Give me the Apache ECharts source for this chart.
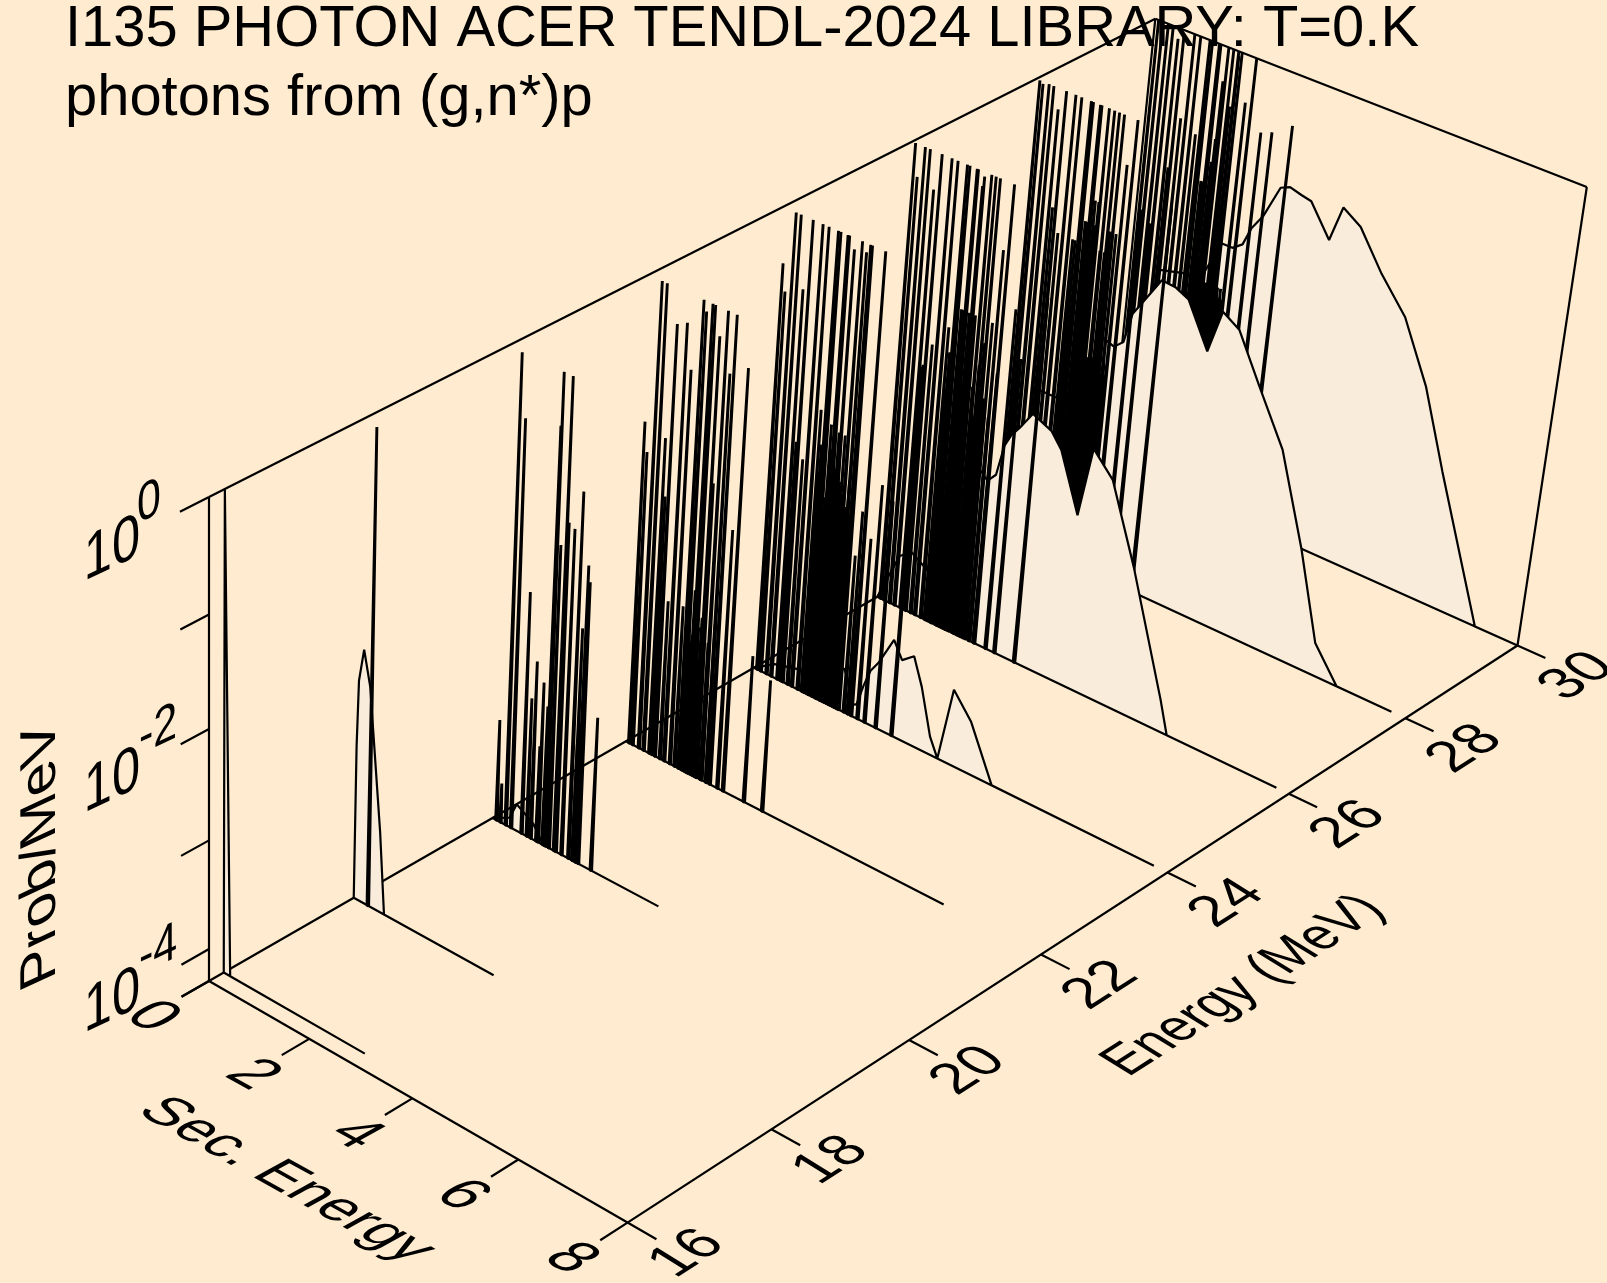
<!DOCTYPE html>
<html><head><meta charset="utf-8">
<style>html,body{margin:0;padding:0;background:#FFECD0}#c{width:1607px;height:1283px}</style>
<script src="https://cdn.jsdelivr.net/npm/echarts@6/dist/echarts.min.js"></script>
</head><body><div id="c"></div>
<script>
// ---------- data: secondary energy (MeV) and log10(Prob/MeV) ----------
const secTicks = [0, 2, 4, 6, 8];
const energyTicks = [16, 18, 20, 22, 24, 26, 28, 30];
const probTicks = [0, -1, -2, -3, -4, -4.3];
const probLabels = ['0', '-2', '-4'];

const e162ContSec = [0, 0.005, 0.13, 2.8];
const e162ContLog = [-4.3, 0, -4.3, -4.3];

const e18ContSec = [0, 0.005, 0.03, 0.12, 0.25, 0.5, 0.61, 2.78];
const e18ContLog = [-4.3, -2.88, -2.28, -1.98, -2.28, -3.55, -4.3, -4.3];
const e18LineSec = [0.285];
const e18LineLog = [0];

const e20ContSec = [0, 0.34, 0.47, 0.81, 1.02, 3.29];
const e20ContLog = [-4.3, -4.21, -4.05, -4.15, -4.3, -4.3];
const e20LineSec = [0.079, 0.16, 0.266, 0.373, 0.584, 0.69, 0.768, 0.88, 0.914, 1.005, 1.042, 1.064, 1.131, 1.235, 1.27, 1.384, 1.52, 1.6, 1.607, 1.655, 1.672, 1.713, 1.967];
const e20LineLog = [-3.35, -3.93, 0, -0.55, -2.05, -3.0, -2.64, -3.4, -2.8, -3.0, -0.47, 0, -1.5, 0, -1.27, -1.3, -0.94, -3.2, -2.14, -3.0, -1.56, -1.7, -2.87];

const e22ContSec = [0, 6.2];
const e22ContLog = [-4.3, -4.3];
const e22LineSec = [0.068, 0.135, 0.263, 0.359, 0.474, 0.525, 0.586, 0.688, 0.773, 0.888, 0.982, 1.059, 1.118, 1.196, 1.235, 1.228, 1.278, 1.356, 1.399, 1.387, 1.423, 1.497, 1.52, 1.612, 1.613, 1.685, 1.836, 1.948, 2.36, 2.72, 1.15, 1.18, 1.21, 1.25, 1.27, 1.3, 1.33, 1.36, 1.41];
const e22LineLog = [-1.29, -1.55, 0, 0, -1.35, -1.87, -0.31, -2.8, -0.26, -0.65, -2.78, 0, -0.09, -2.58, -2.58, 0, 0, -2.8, -3.0, -0.25, -1.55, -3.0, 0, -2.8, -0.53, 0, -1.88, -0.41, -2.92, -3.06, -3.1, -3.0, -3.2, -3.0, -3.1, -2.9, -3.2, -3.0, -3.1];

const e24ContSec = [0, 0.4, 1.0, 1.4, 1.75, 1.84, 1.94, 2.04, 2.15, 2.26, 2.4, 2.66, 2.84, 3.06, 3.25, 3.48, 3.65, 3.85, 4.22, 4.7, 7.75];
const e24ContLog = [-4.3, -4.17, -4.09, -4.04, -3.89, -3.97, -4.19, -4.17, -3.96, -3.79, -3.68, -3.4, -3.55, -3.46, -3.71, -4.13, -4.3, -3.59, -3.81, -4.3, -4.3];
const e24LineSec = [0.067, 0.137, 0.254, 0.35, 0.474, 0.535, 0.58, 0.682, 0.768, 0.883, 0.969, 1.021, 1.061, 1.108, 1.183, 1.225, 1.243, 1.273, 1.339, 1.377, 1.379, 1.456, 1.515, 1.517, 1.599, 1.605, 1.673, 1.672, 1.705, 1.808, 1.887, 1.954, 2.08, 2.22, 2.44, 2.75, 1.0, 1.09, 1.16, 1.26, 1.32, 1.41, 1.48, 1.56, 1.63];
const e24LineLog = [-0.49, -0.73, 0, 0, -0.64, -2.02, 0, -2.15, 0, 0, -1.63, -1.94, 0, 0, -1.72, -1.94, 0, 0, -1.76, -1.72, -0.1, -1.76, -2.37, 0, -2.15, -0.08, -1.94, 0, 0, -2.8, -2.37, 0, -2.58, -2.05, -2.15, -0.86, -2.2, -2.1, -2.4, -2.3, -2.1, -2.2, -2.3, -2.4, -2.5];

const e26ContSec = [0, 0.378, 0.606, 0.965, 1.324, 1.756, 1.94, 2.09, 2.2, 2.308, 2.451, 2.675, 3.047, 3.257, 3.669, 3.845, 4.244, 4.79, 5.53, 5.71, 7.77];
const e26ContLog = [-4.3, -3.81, -3.72, -3.83, -3.6, -2.65, -2.73, -2.64, -2.34, -2.22, -2.12, -1.94, -2.02, -2.15, -2.67, -2.01, -2.21, -2.91, -4.0, -4.3, -4.3];
const e26LineSec = [0.067, 0.146, 0.256, 0.352, 0.472, 0.536, 0.58, 0.681, 0.77, 0.884, 0.967, 1.021, 1.064, 1.112, 1.176, 1.215, 1.25, 1.273, 1.33, 1.373, 1.374, 1.398, 1.447, 1.507, 1.527, 1.595, 1.61, 1.663, 1.691, 1.775, 1.85, 1.86, 1.945, 1.957, 2.185, 2.36, 2.75, 0.99, 1.09, 1.2, 1.3, 1.42, 1.55, 1.64, 1.73];
const e26LineLog = [0, -0.29, 0, 0, -0.34, -1.94, 0, -1.72, 0, 0, -1.5, -1.72, 0, 0, -1.29, -1.29, 0, 0, -1.29, -1.5, -0.13, -0.04, -1.29, -1.94, 0, -1.72, 0, -1.5, 0, -1.29, -2.15, -0.61, -1.72, 0, -1.08, -1.5, -0.86, -2.1, -2.0, -1.9, -2.0, -2.1, -2.2, -2.1, -2.0];

const e28ContSec = [0, 0.59, 1.258, 1.705, 1.934, 2.103, 2.22, 2.382, 2.693, 2.954, 3.217, 3.66, 3.864, 4.197, 4.666, 5.22, 5.774, 6.23, 6.71, 7.74];
const e28ContLog = [-4.3, -2.8, -2.8, -2.06, -2.1, -2.02, -1.73, -1.59, -1.32, -1.33, -1.39, -1.78, -1.37, -1.47, -1.89, -2.37, -3.19, -3.99, -4.3, -4.3];
const e28LineSec = [0.074, 0.138, 0.254, 0.345, 0.465, 0.53, 0.591, 0.675, 0.771, 0.884, 0.965, 1.013, 1.068, 1.107, 1.17, 1.208, 1.243, 1.27, 1.32, 1.362, 1.387, 1.412, 1.496, 1.514, 1.583, 1.606, 1.65, 1.7, 1.765, 1.84, 1.957, 2.19, 2.37, 2.73, 1.44, 1.46, 1.48, 1.53, 1.55, 1.57, 1.62, 1.64, 1.67, 1.72, 1.74, 1.78, 1.8];
const e28LineLog = [0, -0.02, 0, 0, -0.19, -1.08, 0, -1.29, 0, 0, -1.29, -1.29, 0, 0, -1.08, -1.08, 0, 0, -0.86, -1.08, -0.86, 0, -1.29, 0, -1.29, 0, -1.08, 0, -1.08, -0.43, 0, -0.77, -0.86, -0.65, -2.4, -2.3, -2.5, -2.4, -2.3, -2.4, -2.2, -2.4, -2.3, -2.4, -2.5, -2.3, -2.4];

const e30ContSec = [0, 0.586, 1.17, 1.308, 1.7, 1.902, 2.085, 2.216, 2.405, 2.666, 2.837, 3.06, 3.253, 3.66, 3.847, 4.2, 4.68, 5.2, 5.733, 6.235, 7.2, 8];
const e30ContLog = [-4.3, -2.26, -2.18, -2.25, -1.78, -1.78, -1.71, -1.53, -1.38, -1.06, -1.02, -1.05, -1.07, -1.35, -1.01, -1.12, -1.46, -1.76, -2.3, -3.01, -4.3, -4.3];
const e30LineSec = [0.066, 0.152, 0.256, 0.352, 0.466, 0.53, 0.57, 0.672, 0.77, 0.884, 0.98, 1.064, 1.112, 1.177, 1.215, 1.245, 1.273, 1.328, 1.363, 1.383, 1.425, 1.52, 1.56, 1.615, 1.625, 1.68, 1.84, 1.957, 2.187, 2.39, 2.75, 1.44, 1.47, 1.5, 1.54, 1.57, 1.6, 1.64, 1.66, 1.71, 1.74, 1.77, 1.8];
const e30LineLog = [0, 0, 0, 0, -0.1, -1.29, -0.05, -0.8, 0, 0, -0.89, 0, 0, -1.29, -1.29, 0, 0, -1.08, -0.86, -0.32, 0, 0, -0.52, 0, -0.04, 0, -0.43, 0, -0.64, -0.6, -0.47, -2.3, -2.2, -2.3, -2.1, -2.2, -2.3, -2.1, -2.2, -2.2, -2.3, -2.2, -2.3];

const titleText = 'I135 PHOTON ACER TENDL-2024 LIBRARY: T=0.K\nphotons from (g,n*)p';

// ---------- slices, back to front ----------
const slices = [
  {E: 30, cs: e30ContSec, cl: e30ContLog, ls: e30LineSec, ll: e30LineLog},
  {E: 28, cs: e28ContSec, cl: e28ContLog, ls: e28LineSec, ll: e28LineLog},
  {E: 26, cs: e26ContSec, cl: e26ContLog, ls: e26LineSec, ll: e26LineLog},
  {E: 24, cs: e24ContSec, cl: e24ContLog, ls: e24LineSec, ll: e24LineLog},
  {E: 22, cs: e22ContSec, cl: e22ContLog, ls: e22LineSec, ll: e22LineLog},
  {E: 20, cs: e20ContSec, cl: e20ContLog, ls: e20LineSec, ll: e20LineLog},
  {E: 18, cs: e18ContSec, cl: e18ContLog, ls: e18LineSec, ll: e18LineLog},
  {E: 16.2, cs: e162ContSec, cl: e162ContLog, ls: [], ll: []}
];

// ---------- perspective projection of the 3-D box onto the hidden cartesian plane ----------
const LOG_MIN = -4.3, BG = '#FFECD0', FILL = '#F9ECDA', LW = 2.2, LW_SPIKE = 2.9, SPIKE_HALF = 0.016;
function proj(sec, E, lp) {
  const sn = sec / 8, en = (E - 16) / 14, zn = Math.min(1, Math.max(0, (lp - LOG_MIN) / -LOG_MIN));
  const d = 1 - 0.0555 * sn + 0.1483 * en - 0.055 * zn;
  return [(209 + 383.7 * sn + 1065.6 * en - 11.5 * zn) / d,
          (981 + 173.7 * sn - 449.3 * en - 511.3 * zn) / d];
}

// ---------- frame, ticks ----------
const frame = [
  [[0,16,LOG_MIN],[0,30,LOG_MIN]], [[0,30,LOG_MIN],[0,30,0]],
  [[0,16,LOG_MIN],[0,16,0]], [[0,16,0],[0,30,0]], [[0,30,0],[8,30,0]], [[8,30,0],[8,30,LOG_MIN]],
  [[8,30,LOG_MIN],[8,16,LOG_MIN]], [[8,16,LOG_MIN],[0,16,LOG_MIN]]
];
const TICK_E = 15.63, TICK_S = 8.52;
const ticks = [];
probTicks.forEach(p => ticks.push([[0,16,p],[0,TICK_E,p]]));
secTicks.forEach(s => ticks.push([[s,16,LOG_MIN],[s,TICK_E,LOG_MIN]]));
energyTicks.forEach(e => ticks.push([[8,e,LOG_MIN],[TICK_S,e,LOG_MIN]]));

function lineSeries(name, segs, z) {
  return {
    type: 'custom', name, coordinateSystem: 'cartesian2d', silent: true, clip: false, z,
    data: segs.map((_, i) => [i]),
    renderItem(params, api) {
      const seg = segs[api.value(0)];
      const a = api.coord(proj(...seg[0])), b = api.coord(proj(...seg[1]));
      return {type: 'line', shape: {x1: a[0], y1: a[1], x2: b[0], y2: b[1]},
              style: {stroke: '#000', lineWidth: LW, lineCap: 'butt'}};
    }
  };
}

function sliceSeries(sl, idx) {
  return {
    type: 'custom', name: 'E=' + sl.E + ' MeV', coordinateSystem: 'cartesian2d', silent: true, clip: false, z: 10 + idx,
    data: [[sl.E]],
    renderItem(params, api) {
      const E = api.value(0);
      const pt = (s, l) => api.coord(proj(s, E, l));
      const children = [{type: 'polygon', shape: {points: sl.cs.map((s, i) => pt(s, sl.cl[i]))},
        style: {fill: FILL, stroke: '#000', lineWidth: LW, lineJoin: 'bevel'}}];
      sl.ls.forEach((s, i) => {
        children.push({type: 'polygon',
          shape: {points: [pt(s - SPIKE_HALF, LOG_MIN), pt(s, sl.ll[i]), pt(s + SPIKE_HALF, LOG_MIN)]},
          style: {fill: FILL, stroke: '#000', lineWidth: LW_SPIKE, lineJoin: 'bevel'}});
      });
      return {type: 'group', children};
    }
  };
}

// ---------- projected text: a shear is made from nested rotate / scale groups ----------
function planeText(str, pos, ex, ey, a, b, fs) {
  const m00 = ex[0] * a, m10 = ex[1] * a, m01 = ey[0] * b, m11 = ey[1] * b;
  const E = (m00 + m11) / 2, F = (m00 - m11) / 2, G = (m10 + m01) / 2, H = (m10 - m01) / 2;
  const Q = Math.hypot(E, H), R = Math.hypot(F, G);
  const a1 = Math.atan2(G, F), a2 = Math.atan2(H, E);
  return {type: 'group', x: pos[0], y: pos[1], rotation: -(a2 + a1) / 2, z: 100, silent: true, children: [
    {type: 'group', scaleX: Q + R, scaleY: Q - R, children: [
      {type: 'text', rotation: -(a2 - a1) / 2, style: {text: str, fontFamily: '"Liberation Sans",Arial,sans-serif',
        fontSize: fs, textAlign: 'center', textVerticalAlign: 'middle', fill: '#000'}}]}]};
}
const dirS = [0.875, 0.485], dirEup = [0.84, -0.54], dirEl = [-0.875, 0.483], dirSr = [0.85, 0.525], dirW = [0.905, -0.425], dirZ = [0, 1];
const texts = [];
secTicks.forEach(s => {
  const p = proj(s, 16, LOG_MIN);
  texts.push(planeText(String(s), [p[0] - 57, p[1] + 36], dirS, dirEl, 1.18, 1.25, 50));
});
energyTicks.forEach(e => {
  const p = proj(8, e, LOG_MIN);
  texts.push(planeText(String(e), [p[0] + 60, p[1] + 31], dirEup, dirSr, 1.12, 1.16, 50));
});
probLabels.forEach(sup => {
  const p = proj(0, 16, Number(sup));
  texts.push(planeText('10', [p[0] - 97, p[1] + 53], dirW, dirZ, 1.12, 1.28, 50));
  const one = sup.length === 1;
  texts.push(planeText(sup, [p[0] - (one ? 60 : 51), p[1] + (one ? 6 : 2)], dirW, dirZ, 0.95, 1.08, 50));
});
texts.push(planeText('Sec. Energy', [286, 1180], dirS, dirEl, 1.15, 1.15, 50));
texts.push(planeText('Energy (MeV)', [1244, 986], dirEup, dirSr, 1.0, 1.15, 50));
texts.push(planeText('Prob/MeV', [41, 854], [0, -1], [0.9, -0.42], 1.18, 1.12, 50));

const chart = echarts.init(document.getElementById('c'), null, {renderer: 'canvas'});
chart.setOption({
  backgroundColor: BG,
  animation: false,
  title: {text: titleText, left: 60, top: -9, z: 100, silent: true,
    textStyle: {fontFamily: '"Liberation Sans",Arial,sans-serif', fontWeight: 'normal', fontSize: 57.9, lineHeight: 69, color: '#000'}},
  grid: {left: 0, right: 0, top: 0, bottom: 0},
  xAxis: {type: 'value', min: 0, max: 1607, show: false},
  yAxis: {type: 'value', min: 0, max: 1283, inverse: true, show: false},
  graphic: {elements: texts},
  series: [lineSeries('Frame', frame, 5), lineSeries('Ticks', ticks, 5)].concat(slices.map(sliceSeries))
});
</script></body></html>
